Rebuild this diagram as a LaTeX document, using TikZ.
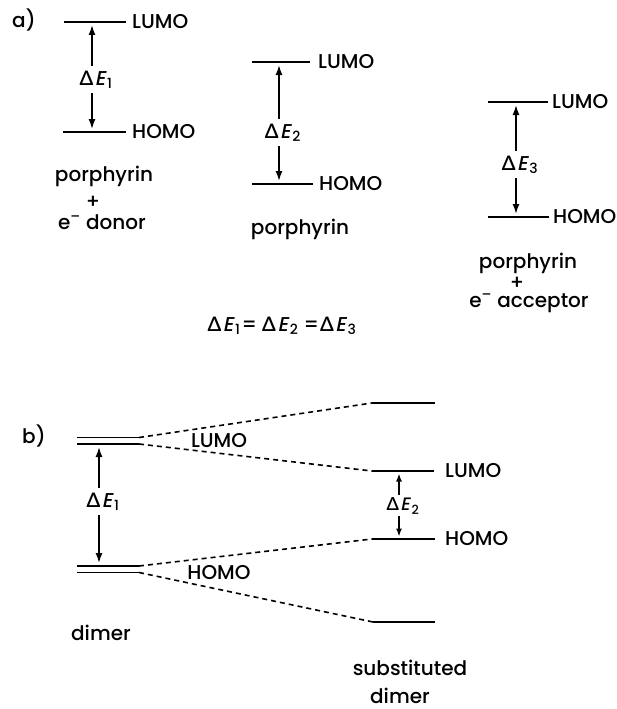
\documentclass[tikz,border=0pt]{standalone}
\usepackage{fontspec}
\setmainfont{Poppins}[UprightFont=*-Medium]
\newfontfamily\dfont{Lato}[UprightFont=* Semibold]
\newfontfamily\slfont{Poppins}[UprightFont=*-Medium,FakeSlant=0.2]
\usetikzlibrary{arrows.meta}
\newcommand{\dE}[1]{{\dfont Δ}\kern1.5pt{\slfont E}\kern1.8pt\textsubscript{#1}}
\begin{document}
\begin{tikzpicture}[x=1pt,y=-1pt,font=\fontsize{20}{24}\selectfont,
  level/.style={line width=2.3pt},
  dlevel/.style={line width=1.8pt},
  dashedcon/.style={line width=1.6pt,dash pattern=on 5pt off 4pt},
  arr/.style={-{Latex[length=10pt,width=7pt]},line width=1.6pt,shorten >=3pt},
  sarr/.style={-{Latex[length=8pt,width=6pt]},line width=1.5pt,shorten >=2.5pt},
  lbl/.style={inner sep=0pt,anchor=west},
  txt/.style={inner sep=0pt,anchor=base},
  plus/.style={inner sep=0pt},
  de/.style={inner sep=0pt}]
\useasboundingbox (0,0) rectangle (616,709);

% ---------- panel a ----------
\node[txt,anchor=base west] (alab) at (12,28) {a)};

% group 1
\coordinate (a1La) at (64,22); \coordinate (a1Lb) at (126,22);
\coordinate (a1Ha) at (63,132); \coordinate (a1Hb) at (126,132);
\draw[level] (a1La) -- (a1Lb);
\draw[level] (a1Ha) -- (a1Hb);
\node[lbl] (a1Lt) at (132,22) {LUMO};
\node[lbl] (a1Ht) at (132,132) {HOMO};
\coordinate (a1up) at (92,22); \coordinate (a1dn) at (92,132);
\node[de] (a1d) at (96,80) {\dE{1}};
\draw[arr] ([yshift=5pt]a1d.north -| a1up) -- (a1up);
\draw[arr] ([yshift=-4pt]a1d.south -| a1dn) -- (a1dn);
\node[txt] (a1t1) at (104,181) {porphyrin};
\node[plus] (a1t2) at (93,202) {+};
\node[txt] (a1t3) at (102,229) {e\textsuperscript{–} donor};

% group 2
\coordinate (a2La) at (252,62); \coordinate (a2Lb) at (310,62);
\coordinate (a2Ha) at (252,184); \coordinate (a2Hb) at (313,184);
\draw[level] (a2La) -- (a2Lb);
\draw[level] (a2Ha) -- (a2Hb);
\node[lbl] (a2Lt) at (318,62) {LUMO};
\node[lbl] (a2Ht) at (319,184) {HOMO};
\coordinate (a2up) at (279,62); \coordinate (a2dn) at (279,184);
\node[de] (a2d) at (283,133) {\dE{2}};
\draw[arr] ([yshift=5pt]a2d.north -| a2up) -- (a2up);
\draw[arr] ([yshift=-4pt]a2d.south -| a2dn) -- (a2dn);
\node[txt] (a2t1) at (300,234) {porphyrin};

% group 3
\coordinate (a3La) at (488,102); \coordinate (a3Lb) at (548,102);
\coordinate (a3Ha) at (488,217); \coordinate (a3Hb) at (549,217);
\draw[level] (a3La) -- (a3Lb);
\draw[level] (a3Ha) -- (a3Hb);
\node[lbl] (a3Lt) at (552,102) {LUMO};
\node[lbl] (a3Ht) at (553,217) {HOMO};
\coordinate (a3up) at (516,102); \coordinate (a3dn) at (516,217);
\node[de] (a3d) at (520,165) {\dE{3}};
\draw[arr] ([yshift=5pt]a3d.north -| a3up) -- (a3up);
\draw[arr] ([yshift=-4pt]a3d.south -| a3dn) -- (a3dn);
\node[txt] (a3t1) at (528,268) {porphyrin};
\node[plus] (a3t2) at (517,283) {+};
\node[txt] (a3t3) at (529,307) {e\textsuperscript{–} acceptor};

\node[txt] (eq) at (282,331) {\dE{1}\kern1pt= \dE{2} =\kern1pt\dE{3}};

% ---------- panel b ----------
\node[txt,anchor=base west] (blab) at (22,443) {b)};

\coordinate (bL1a) at (77,437.5); \coordinate (bL1b) at (139,437.5);
\coordinate (bL2a) at (77,444); \coordinate (bL2b) at (139,444);
\coordinate (bH1a) at (77,566); \coordinate (bH1b) at (139,566);
\coordinate (bH2a) at (77,572.5); \coordinate (bH2b) at (139,572.5);
\draw[dlevel] (bL1a) -- (bL1b);
\draw[dlevel] (bL2a) -- (bL2b);
\draw[dlevel] (bH1a) -- (bH1b);
\draw[dlevel] (bH2a) -- (bH2b);
\coordinate (bup) at (99,444); \coordinate (bdn) at (99,566);
\node[de] (bd1) at (103,502) {\dE{1}};
\draw[arr] ([yshift=5pt]bd1.north -| bup) -- (bup);
\draw[arr] ([yshift=-4pt]bd1.south -| bdn) -- (bdn);
\node (bLt) at (219,441) [inner sep=0pt] {LUMO};
\node (bHt) at (219,573) [inner sep=0pt] {HOMO};
\node[txt] (bdim) at (101,640) {dimer};

\coordinate (sTa) at (372,403); \coordinate (sTb) at (435,403);
\coordinate (sLa) at (372,471); \coordinate (sLb) at (434,471);
\coordinate (sHa) at (372,539); \coordinate (sHb) at (435,539);
\coordinate (sBa) at (373,622); \coordinate (sBb) at (435,622);
\draw[level] (sTa) -- (sTb);
\draw[level] (sLa) -- (sLb);
\draw[level] (sHa) -- (sHb);
\draw[level] (sBa) -- (sBb);
\node[lbl] (sLt) at (445,471) {LUMO};
\node[lbl] (sHt) at (445,539) {HOMO};
\coordinate (sup) at (399,471); \coordinate (sdn) at (399,539);
\node[de,font=\fontsize{18}{21}\selectfont] (sd) at (403,506) {\dE{2}};
\draw[sarr] ([yshift=3pt]sd.north -| sup) -- (sup);
\draw[sarr] ([yshift=-2pt]sd.south -| sdn) -- (sdn);
\node[txt] (ssub) at (410,675) {substituted};
\node[txt] (sdim) at (400,703) {dimer};

\draw[dashedcon] (bL1b) -- (sTa);
\draw[dashedcon] (bL2b) -- (sLa);
\draw[dashedcon] (bH1b) -- (sHa);
\draw[dashedcon] (bH2b) -- (sBa);
\end{tikzpicture}
\end{document}
